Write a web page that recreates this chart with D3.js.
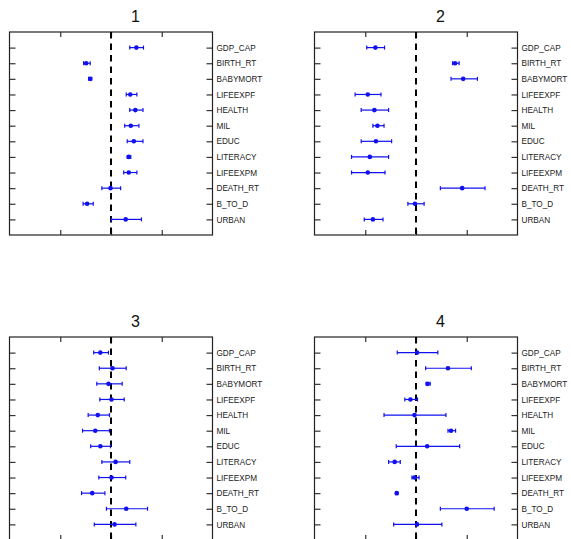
<!DOCTYPE html>
<html>
<head>
<meta charset="utf-8">
<script src="https://cdn.jsdelivr.net/npm/d3@7"></script>
<style>
  html, body { margin: 0; padding: 0; background: #fff; }
  svg { display: block; }
</style>
</head>
<body>
<svg id="chart" width="571" height="539"></svg>
<script>
// Variables listed on each panel, top to bottom
const variables = ["GDP_CAP", "BIRTH_RT", "BABYMORT", "LIFEEXPF", "HEALTH", "MIL",
                   "EDUC", "LITERACY", "LIFEEXPM", "DEATH_RT", "B_TO_D", "URBAN"];

const panelTitles = ["1", "2", "3", "4"];

// Group 1: centre estimate and interval bounds
const mean1 = [0.50, -0.49, -0.41, 0.38, 0.48, 0.39, 0.45, 0.35, 0.35, -0.01, -0.47, 0.29];
const low1  = [0.37, -0.54, -0.44, 0.30, 0.37, 0.27, 0.32, 0.32, 0.25, -0.18, -0.55, 0.01];
const high1 = [0.64, -0.41, -0.38, 0.51, 0.63, 0.55, 0.63, 0.39, 0.51, 0.19, -0.35, 0.60];

// Group 2
const mean2 = [-0.80, 0.77, 0.93, -0.95, -0.82, -0.76, -0.79, -0.91, -0.95, 0.91, -0.02, -0.85];
const low2  = [-0.97, 0.72, 0.69, -1.20, -1.08, -0.85, -1.08, -1.27, -1.27, 0.48, -0.16, -1.02];
const high2 = [-0.62, 0.85, 1.21, -0.69, -0.54, -0.63, -0.48, -0.54, -0.61, 1.36, 0.16, -0.65];

// Group 3
const mean3 = [-0.21, 0.03, -0.05, 0.01, -0.26, -0.31, -0.21, 0.09, 0.01, -0.37, 0.30, 0.07];
const low3  = [-0.34, -0.23, -0.28, -0.22, -0.45, -0.56, -0.40, -0.18, -0.24, -0.58, -0.09, -0.33];
const high3 = [-0.05, 0.30, 0.22, 0.26, -0.03, -0.03, -0.01, 0.37, 0.29, -0.12, 0.72, 0.49];

// Group 4
const mean4 = [0.02, 0.63, 0.23, -0.11, -0.03, 0.69, 0.22, -0.42, -0.03, -0.38, 1.00, 0.02];
const low4  = [-0.37, 0.19, 0.20, -0.22, -0.63, 0.63, -0.39, -0.54, -0.08, -0.40, 0.48, -0.44];
const high4 = [0.43, 1.09, 0.28, 0.03, 0.59, 0.78, 0.86, -0.31, 0.06, -0.36, 1.54, 0.51];

const xDomain = [-2, 2];
const xTicks = [-1, 0, 1];

const groups = [
  { title: panelTitles[0], mean: mean1, low: low1, high: high1 },
  { title: panelTitles[1], mean: mean2, low: low2, high: high2 },
  { title: panelTitles[2], mean: mean3, low: low3, high: high3 },
  { title: panelTitles[3], mean: mean4, low: low4, high: high4 }
];

const svg = d3.select("#chart");
const W = 203, H = 203;
const origins = [[9.5, 32], [314.5, 32], [9.5, 337], [314.5, 337]];

const x = d3.scaleLinear().domain(xDomain).range([0, W]);
const y = d3.scalePoint().domain(variables).range([0, H]).padding(1);

const markColor = "#1010f0";
const font = "'Liberation Sans', Arial, sans-serif";

groups.forEach((g, i) => {
  const [ox, oy] = origins[i];
  const p = svg.append("g").attr("transform", `translate(${ox},${oy})`);

  // Title centred over the panel plus its labels
  p.append("text")
    .attr("x", 126).attr("y", -10)
    .attr("text-anchor", "middle")
    .attr("font-family", font)
    .attr("font-size", 16)
    .attr("fill", "#111")
    .text(g.title);

  // Inward ticks on all four sides
  const left = p.append("g")
    .call(d3.axisLeft(y).tickSize(-6).tickFormat(""));
  const right = p.append("g").attr("transform", `translate(${W},0)`)
    .call(d3.axisRight(y).tickSize(-6).tickPadding(4));
  const top = p.append("g")
    .call(d3.axisTop(x).tickValues(xTicks).tickSize(-5).tickFormat(""));
  const bottom = p.append("g").attr("transform", `translate(0,${H})`)
    .call(d3.axisBottom(x).tickValues(xTicks).tickSize(-5).tickFormat(""));

  [left, right, top, bottom].forEach(a => {
    a.select(".domain").remove();
    a.selectAll(".tick line").attr("stroke", "#333").attr("stroke-width", 1.2);
  });
  right.selectAll(".tick text")
    .attr("font-family", font)
    .attr("font-size", 8.2)
    .attr("fill", "#222");

  // Frame
  p.append("rect")
    .attr("x", 0).attr("y", 0).attr("width", W).attr("height", H)
    .attr("fill", "none").attr("stroke", "#222").attr("stroke-width", 1.2);

  // Reference line at zero
  p.append("line")
    .attr("x1", x(0)).attr("x2", x(0))
    .attr("y1", 0).attr("y2", H)
    .attr("stroke", "#000").attr("stroke-width", 2)
    .attr("stroke-dasharray", "6.5,5");

  const rows = variables.map((v, j) => ({ v, m: g.mean[j], lo: g.low[j], hi: g.high[j] }));
  const marks = p.append("g");

  // Interval bars
  marks.selectAll("line.bar").data(rows).join("line")
    .attr("class", "bar")
    .attr("x1", d => x(d.lo)).attr("x2", d => x(d.hi))
    .attr("y1", d => y(d.v)).attr("y2", d => y(d.v))
    .attr("stroke", markColor).attr("stroke-width", 1.2);

  // End caps
  ["lo", "hi"].forEach(k => {
    marks.selectAll(`line.cap-${k}`).data(rows).join("line")
      .attr("class", `cap-${k}`)
      .attr("x1", d => x(d[k])).attr("x2", d => x(d[k]))
      .attr("y1", d => y(d.v) - 2).attr("y2", d => y(d.v) + 2)
      .attr("stroke", markColor).attr("stroke-width", 1.2);
  });

  // Point estimates
  marks.selectAll("circle").data(rows).join("circle")
    .attr("cx", d => x(d.m)).attr("cy", d => y(d.v))
    .attr("r", 2.3)
    .attr("fill", markColor);
});
</script>
</body>
</html>
